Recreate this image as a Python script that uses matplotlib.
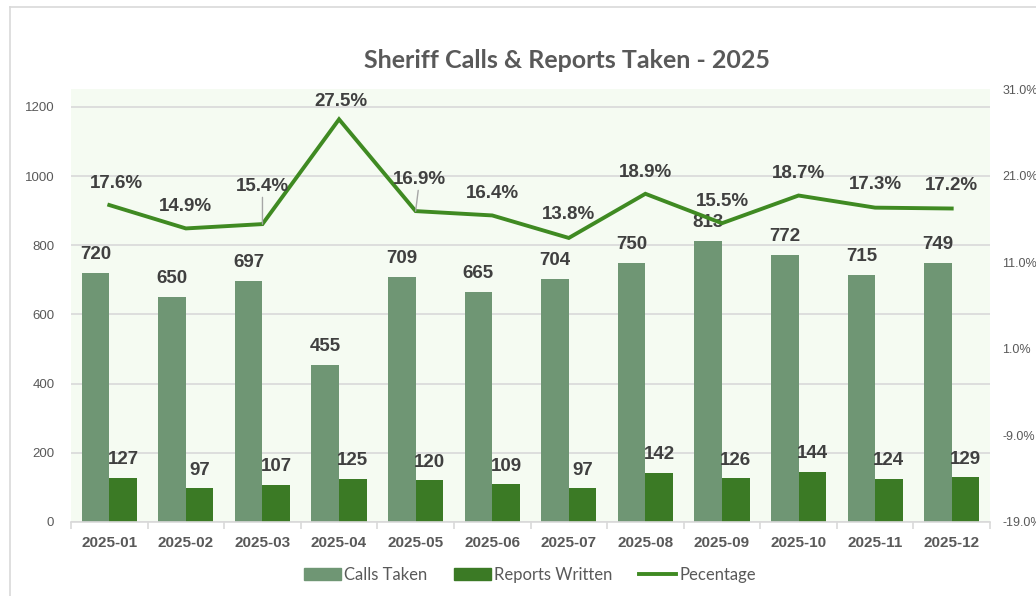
import numpy as np
import matplotlib.pyplot as plt
from matplotlib.lines import Line2D

months = ['2025-01', '2025-02', '2025-03', '2025-04', '2025-05', '2025-06',
          '2025-07', '2025-08', '2025-09', '2025-10', '2025-11', '2025-12']
calls = [720, 650, 697, 455, 709, 665, 704, 750, 813, 772, 715, 749]
reports = [127, 97, 107, 125, 120, 109, 97, 142, 126, 144, 124, 129]
pct = [17.6, 14.9, 15.4, 27.5, 16.9, 16.4, 13.8, 18.9, 15.5, 18.7, 17.3, 17.2]

# label offsets (pixels) for the percentage labels, as Excel placed them
pct_off = [(7, 22), (0, 22), (0, 38), (2, 18), (4, 32), (0, 22),
           (0, 23), (0, 21), (0, 22), (0, 22), (0, 23), (0, 23)]
leader = [False, False, True, False, True, False,
          False, False, False, False, False, False]

c_calls = '#6F9674'
c_reports = '#3B7A25'
c_line = '#3F8A22'
c_text = '#404040'
c_tick = '#595959'

plt.rcParams['font.family'] = ['Liberation Sans', 'DejaVu Sans']

fig = plt.figure(figsize=(10.36, 5.96), dpi=100)
ax = fig.add_axes([71/1036, 1-522/596, 919/1036, 433/596])
ax.set_facecolor('#F5FBF2')

x = np.arange(len(months))
w = 0.36
ax.bar(x - w/2, calls, w, color=c_calls, zorder=2)
ax.bar(x + w/2, reports, w, color=c_reports, zorder=2)

for i in range(len(months)):
    ax.annotate(str(calls[i]), (x[i] - w/2, calls[i]), xytext=(0, 7), textcoords='offset points',
                ha='center', va='bottom', fontsize=13.5, fontweight='bold', color=c_text, zorder=5)
    ax.annotate(str(reports[i]), (x[i] + w/2, reports[i]), xytext=(0, 7), textcoords='offset points',
                ha='center', va='bottom', fontsize=13.5, fontweight='bold', color=c_text, zorder=5)

ax.set_xlim(-0.5, len(months) - 0.5)
ax.set_ylim(0, 1252)
ax.set_yticks(range(0, 1201, 200))
ax.yaxis.grid(True, color='#D9D9D9', linewidth=1.2, zorder=0)
ax.set_axisbelow(True)
for s in ['top', 'left', 'right']:
    ax.spines[s].set_visible(False)
ax.spines['bottom'].set_color('#D9D9D9')
ax.spines['bottom'].set_linewidth(1.2)
ax.tick_params(axis='y', length=0, labelsize=9.5, labelcolor=c_tick, pad=12)
ax.set_xticks(x)
ax.set_xticklabels(months, fontsize=11, fontweight='bold', color=c_tick)
ax.tick_params(axis='x', length=0, pad=10)
ax.set_xticks(np.arange(-0.5, len(months)), minor=True)
ax.tick_params(axis='x', which='minor', length=5, color='#D9D9D9', width=1.2)

ax2 = ax.twinx()
ax2.plot(x, pct, color=c_line, linewidth=2.8, zorder=4, solid_joinstyle='miter')
ax2.set_ylim(-19, 31)
ax2.set_yticks(np.arange(-19, 32, 10))
ax2.set_yticklabels([f'{v:.1f}%' for v in np.arange(-19, 32, 10)])
ax2.tick_params(axis='y', length=0, labelsize=9, labelcolor=c_tick, pad=9)
for s in ax2.spines.values():
    s.set_visible(False)

for i in range(len(months)):
    dx, dy = pct_off[i]
    kw = {}
    if leader[i]:
        kw['arrowprops'] = dict(arrowstyle='-', color='#A6A6A6', lw=1, shrinkA=0, shrinkB=0)
    ax2.annotate(f'{pct[i]:.1f}%', (x[i], pct[i]), xytext=(dx*0.72, dy*0.72),
                 textcoords='offset points', ha='center', va='center',
                 fontsize=13.5, fontweight='bold', color=c_text, zorder=6, **kw)

fig.text(567/1036, 1-60/596, 'Sheriff Calls & Reports Taken - 2025', ha='center', va='center',
         fontsize=18, fontweight='bold', color=c_tick, family=['Lato', 'DejaVu Sans'])

handles = [plt.Rectangle((0, 0), 1, 1, color=c_calls),
           plt.Rectangle((0, 0), 1, 1, color=c_reports),
           Line2D([0], [0], color=c_line, linewidth=2.8)]
fig.legend(handles, ['Calls Taken', 'Reports Written', 'Pecentage'], loc='center',
           bbox_to_anchor=(530/1036, 1-575/596), ncol=3, frameon=False,
           prop={'family': ['Lato', 'DejaVu Sans'], 'size': 12}, labelcolor=c_tick,
           handlelength=2.2, handletextpad=0.2, columnspacing=1.6)

# chart frame
fig.add_artist(Line2D([10/1036, 1], [1-7/596, 1-7/596], color='#D9D9D9', linewidth=1.2))
fig.add_artist(Line2D([10/1036, 10/1036], [0, 1-7/596], color='#D9D9D9', linewidth=1.2))

fig.savefig('out.png', dpi=100)
